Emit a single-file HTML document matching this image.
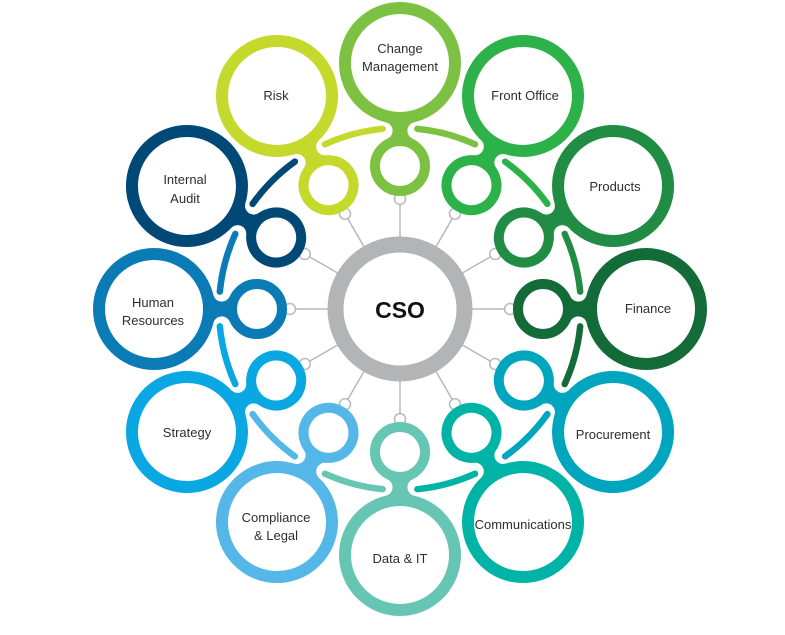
<!DOCTYPE html>
<html>
<head>
<meta charset="utf-8">
<style>
html,body{margin:0;padding:0;background:#fff;}
svg{display:block;}
text{font-family:"Liberation Sans",Arial,sans-serif;fill:#2e2e2e;font-size:13px;text-anchor:middle;}
</style>
</head>
<body>
<svg width="785" height="635" viewBox="0 0 785 635" xmlns="http://www.w3.org/2000/svg">
<defs>
  <g id="spoke">
    <line x1="400" y1="245" x2="400" y2="204" stroke="#b8b8ba" stroke-width="1.5"/>
    <circle cx="400" cy="199" r="5.5" fill="#fff" stroke="#b8b8ba" stroke-width="1.5"/>
  </g>
  <path id="neck" d="M385.91,122.35 A8.7,8.7 0 0 1 387.52,138.72 L412.48,138.72 A8.7,8.7 0 0 1 414.09,122.35 Z"/>
  <path id="arc" d="M417.35,128.83 A181,181 0 0 1 475.06,144.29" fill="none" stroke-width="6.5" stroke-linecap="round"/>
</defs>

<!-- spokes -->
<g>
  <use href="#spoke" transform="rotate(0 400 309)"/>
  <use href="#spoke" transform="rotate(30 400 309)"/>
  <use href="#spoke" transform="rotate(60 400 309)"/>
  <use href="#spoke" transform="rotate(90 400 309)"/>
  <use href="#spoke" transform="rotate(120 400 309)"/>
  <use href="#spoke" transform="rotate(150 400 309)"/>
  <use href="#spoke" transform="rotate(180 400 309)"/>
  <use href="#spoke" transform="rotate(210 400 309)"/>
  <use href="#spoke" transform="rotate(240 400 309)"/>
  <use href="#spoke" transform="rotate(270 400 309)"/>
  <use href="#spoke" transform="rotate(300 400 309)"/>
  <use href="#spoke" transform="rotate(330 400 309)"/>
</g>

<!-- CSO ring -->
<circle cx="400" cy="309" r="64.5" fill="#fff" stroke="#b3b4b6" stroke-width="16"/>
<text x="400" y="318" style="font-size:23px;font-weight:bold;fill:#111;">CSO</text>

<!-- keyholes -->
<g transform="rotate(0 400 309)" fill="#fff" stroke="#7dc142">
  <use href="#neck" fill="#7dc142" stroke="none"/>
  <circle cx="400" cy="63" r="55" stroke-width="12"/>
  <circle cx="400" cy="166" r="25" stroke-width="10"/>
  <use href="#arc"/>
</g>
<g transform="rotate(30 400 309)" fill="#fff" stroke="#2db24a">
  <use href="#neck" fill="#2db24a" stroke="none"/>
  <circle cx="400" cy="63" r="55" stroke-width="12"/>
  <circle cx="400" cy="166" r="25" stroke-width="10"/>
  <use href="#arc"/>
</g>
<g transform="rotate(60 400 309)" fill="#fff" stroke="#218c44">
  <use href="#neck" fill="#218c44" stroke="none"/>
  <circle cx="400" cy="63" r="55" stroke-width="12"/>
  <circle cx="400" cy="166" r="25" stroke-width="10"/>
  <use href="#arc"/>
</g>
<g transform="rotate(90 400 309)" fill="#fff" stroke="#136b37">
  <use href="#neck" fill="#136b37" stroke="none"/>
  <circle cx="400" cy="63" r="55" stroke-width="12"/>
  <circle cx="400" cy="166" r="25" stroke-width="10"/>
  <use href="#arc"/>
</g>
<g transform="rotate(120 400 309)" fill="#fff" stroke="#00a6bd">
  <use href="#neck" fill="#00a6bd" stroke="none"/>
  <circle cx="400" cy="63" r="55" stroke-width="12"/>
  <circle cx="400" cy="166" r="25" stroke-width="10"/>
  <use href="#arc"/>
</g>
<g transform="rotate(150 400 309)" fill="#fff" stroke="#00b3a7">
  <use href="#neck" fill="#00b3a7" stroke="none"/>
  <circle cx="400" cy="63" r="55" stroke-width="12"/>
  <circle cx="400" cy="166" r="25" stroke-width="10"/>
  <use href="#arc"/>
</g>
<g transform="rotate(180 400 309)" fill="#fff" stroke="#67c5b3">
  <use href="#neck" fill="#67c5b3" stroke="none"/>
  <circle cx="400" cy="63" r="55" stroke-width="12"/>
  <circle cx="400" cy="166" r="25" stroke-width="10"/>
  <use href="#arc"/>
</g>
<g transform="rotate(210 400 309)" fill="#fff" stroke="#55b7e7">
  <use href="#neck" fill="#55b7e7" stroke="none"/>
  <circle cx="400" cy="63" r="55" stroke-width="12"/>
  <circle cx="400" cy="166" r="25" stroke-width="10"/>
  <use href="#arc"/>
</g>
<g transform="rotate(240 400 309)" fill="#fff" stroke="#09a8e2">
  <use href="#neck" fill="#09a8e2" stroke="none"/>
  <circle cx="400" cy="63" r="55" stroke-width="12"/>
  <circle cx="400" cy="166" r="25" stroke-width="10"/>
  <use href="#arc"/>
</g>
<g transform="rotate(270 400 309)" fill="#fff" stroke="#0b7bb6">
  <use href="#neck" fill="#0b7bb6" stroke="none"/>
  <circle cx="400" cy="63" r="55" stroke-width="12"/>
  <circle cx="400" cy="166" r="25" stroke-width="10"/>
  <use href="#arc"/>
</g>
<g transform="rotate(300 400 309)" fill="#fff" stroke="#004977">
  <use href="#neck" fill="#004977" stroke="none"/>
  <circle cx="400" cy="63" r="55" stroke-width="12"/>
  <circle cx="400" cy="166" r="25" stroke-width="10"/>
  <use href="#arc"/>
</g>
<g transform="rotate(330 400 309)" fill="#fff" stroke="#c5d92d">
  <use href="#neck" fill="#c5d92d" stroke="none"/>
  <circle cx="400" cy="63" r="55" stroke-width="12"/>
  <circle cx="400" cy="166" r="25" stroke-width="10"/>
  <use href="#arc"/>
</g>

<!-- labels -->
<text x="400" y="53">Change</text>
<text x="400" y="71">Management</text>
<text x="276" y="100">Risk</text>
<text x="525" y="100">Front Office</text>
<text x="615" y="191">Products</text>
<text x="648" y="313">Finance</text>
<text x="613" y="439">Procurement</text>
<text x="523" y="529">Communications</text>
<text x="400" y="563">Data &amp; IT</text>
<text x="276" y="522">Compliance</text>
<text x="276" y="540">&amp; Legal</text>
<text x="187" y="437">Strategy</text>
<text x="153" y="307">Human</text>
<text x="153" y="325">Resources</text>
<text x="185" y="184">Internal</text>
<text x="185" y="203">Audit</text>
</svg>
</body>
</html>
